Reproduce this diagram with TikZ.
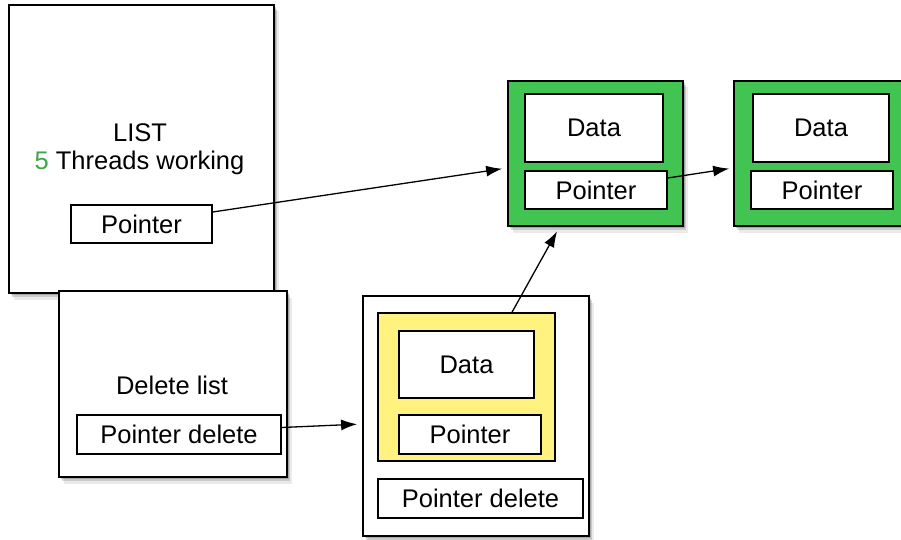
\documentclass[tikz,border=0pt]{standalone}
\usepackage{fontspec}
\setmainfont{Liberation Sans}
\usetikzlibrary{shadows,arrows.meta}
\definecolor{nodegreen}{HTML}{42C453}
\definecolor{nodeyellow}{HTML}{FFF27F}
\definecolor{fivegreen}{HTML}{3FA64A}
\tikzset{
  softshadow/.style={
    drop shadow={shadow xshift=1.5pt,shadow yshift=-2pt,fill=black,opacity=0.18},
    drop shadow={shadow xshift=3pt,shadow yshift=-4pt,fill=black,opacity=0.14},
    drop shadow={shadow xshift=4.5pt,shadow yshift=-6.5pt,fill=black,opacity=0.08}},
  bigbox/.style={draw=black,line width=1.8pt,fill=white,rectangle,inner sep=0pt,softshadow},
  cellbox/.style={draw=black,line width=1.5pt,fill=white,rectangle,inner sep=0pt,
    font=\fontsize{25.5}{30}\selectfont},
  greenbox/.style={bigbox,fill=nodegreen},
  yellowbox/.style={draw=black,line width=1.5pt,fill=nodeyellow,rectangle,inner sep=0pt},
  label/.style={inner sep=0pt,font=\fontsize{25.5}{30}\selectfont},
  conn/.style={draw=black,line width=1.3pt,-{Latex[length=16pt,width=11pt]}}
}
\begin{document}
\begin{tikzpicture}[x=1pt,y=-1pt]
\useasboundingbox (0,0) rectangle (901,540);
\clip (0,0) rectangle (901,540);
% LIST
\node[bigbox,minimum width=265pt,minimum height=288pt] (list) at (141.5,149) {};
\node[label] (listtitle) at (140,133) {LIST};
\node[label] (threads) at (139.5,163) {\textcolor{fivegreen}{5} Threads working};
\node[cellbox,minimum width=141pt,minimum height=38pt] (lptr) at (141.5,224) {Pointer};
% Delete list
\node[bigbox,minimum width=228pt,minimum height=186pt] (del) at (173,384) {};
\node[label] (deltitle) at (172,385) {Delete list};
\node[cellbox,minimum width=204pt,minimum height=39pt] (dptr) at (179,434.5) {Pointer delete};
% Deleted element
\node[bigbox,minimum width=226pt,minimum height=240pt] (outer) at (476,416) {};
\node[yellowbox,minimum width=177pt,minimum height=148pt] (yel) at (466.5,387) {};
\node[cellbox,minimum width=135pt,minimum height=67pt] (ydata) at (466.5,364.5) {Data};
\node[cellbox,minimum width=142pt,minimum height=39pt] (yptr) at (470,434.5) {Pointer};
\node[cellbox,minimum width=205pt,minimum height=39pt] (ypd) at (480.5,498.5) {Pointer delete};
% Green element 1
\node[greenbox,minimum width=175pt,minimum height=145pt] (g1) at (595.5,153.5) {};
\node[cellbox,minimum width=138pt,minimum height=68pt] (g1data) at (594,128) {Data};
\node[cellbox,minimum width=142pt,minimum height=38pt] (g1ptr) at (596,190) {Pointer};
% Green element 2
\node[greenbox,minimum width=175pt,minimum height=145pt] (g2) at (821.5,153.5) {};
\node[cellbox,minimum width=136pt,minimum height=68pt] (g2data) at (821,128) {Data};
\node[cellbox,minimum width=142pt,minimum height=38pt] (g2ptr) at (822,190) {Pointer};
% connectors
\draw[conn,shorten >=5pt] ([yshift=12pt]lptr.east) -- ([yshift=-14.5pt]g1.west);
\draw[conn,shorten >=4pt] ([yshift=12pt]g1ptr.east) -- ([yshift=-14.5pt]g2.west);
\draw[conn,shorten >=5pt] ([yshift=7pt]dptr.east) -- ([yshift=-8pt]outer.west);
\draw[conn,shorten >=5pt] ([xshift=45.5pt]yel.north) -- ([xshift=-36pt]g1.south);
\end{tikzpicture}
\end{document}
